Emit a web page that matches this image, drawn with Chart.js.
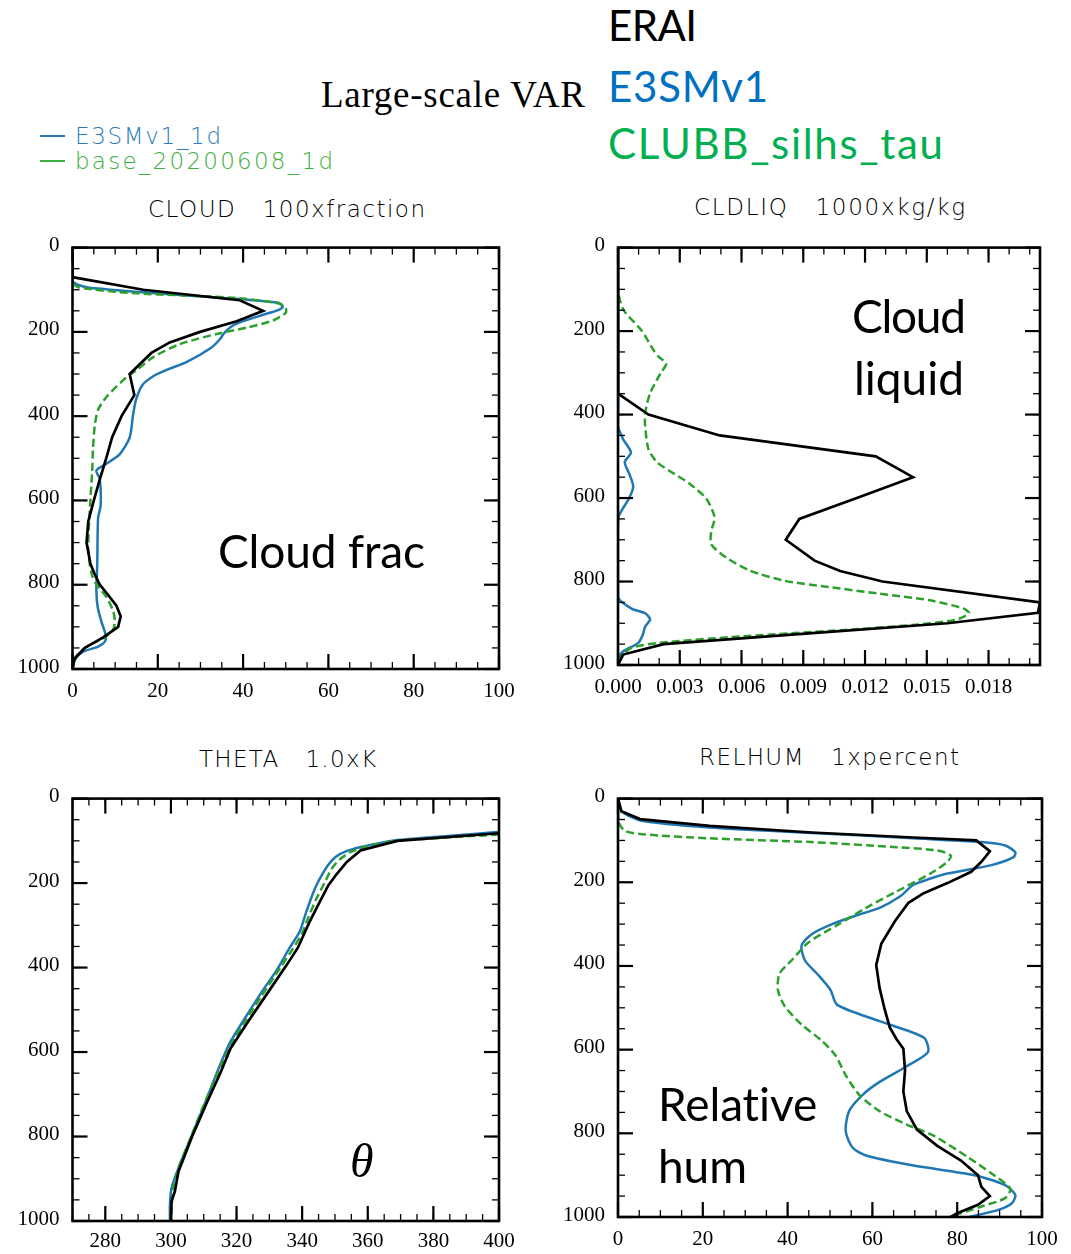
<!DOCTYPE html>
<html><head><meta charset="utf-8">
<script src="https://cdn.jsdelivr.net/npm/chart.js@4.4.1/dist/chart.umd.min.js"></script>
<style>
html,body{margin:0;padding:0;background:#fff;}
body{width:1071px;height:1254px;position:relative;overflow:hidden;}
canvas{position:absolute;}
.t{position:absolute;white-space:pre;line-height:1;left:0;top:0;}
.ncl{font-family:"DejaVu Sans";font-weight:200;font-size:23px;}
.cal{font-family:Lato;}
.ser{font-family:"Liberation Serif";}
.seg{position:absolute;height:2px;width:25px;left:40px;}
</style></head><body>
<div id="tTitle" class="t ser" style="font-size:37px;color:#000">Large-scale VAR</div>
<div id="hERAI" class="t cal" style="font-size:42px;color:#000">ERAI</div>
<div id="hE3SM" class="t cal" style="font-size:42px;color:#0070C0">E3SMv1</div>
<div id="hCLUBB" class="t cal" style="font-size:42px;color:#00B050">CLUBB_silhs_tau</div>
<div class="seg" style="top:134.5px;background:#2b7bba"></div>
<div class="seg" style="top:159.5px;background:#3cae3c"></div>
<div id="lg1" class="t ncl" style="color:#2b7bba">E3SMv1_1d</div>
<div id="lg2" class="t ncl" style="color:#3cae3c">base_20200608_1d</div>
<div id="pt1" class="t ncl" style="color:#000">CLOUD   100xfraction</div>
<div id="pt2" class="t ncl" style="color:#000">CLDLIQ   1000xkg/kg</div>
<div id="pt3" class="t ncl" style="color:#000">THETA   1.0xK</div>
<div id="pt4" class="t ncl" style="color:#000">RELHUM   1xpercent</div>
<canvas id="c1" width="540" height="480" style="left:0px;top:222px"></canvas>
<canvas id="c2" width="531" height="480" style="left:540px;top:222px"></canvas>
<canvas id="c3" width="540" height="481" style="left:0px;top:773px"></canvas>
<canvas id="c4" width="531" height="481" style="left:540px;top:773px"></canvas>
<div id="a1" class="t cal" style="font-size:46px;color:#000">Cloud frac</div>
<div id="a2a" class="t cal" style="font-size:46px;color:#000">Cloud</div>
<div id="a2b" class="t cal" style="font-size:46px;color:#000">liquid</div>
<div id="a3" class="t ser" style="font-size:48px;font-style:italic;color:#000">θ</div>
<div id="a4a" class="t cal" style="font-size:46px;color:#000">Relative</div>
<div id="a4b" class="t cal" style="font-size:46px;color:#000">hum</div>
<script>
// ---------------- DATA ----------------
const pressureTicks = [0, 200, 400, 600, 800, 1000];
const pctTicks = [0, 20, 40, 60, 80, 100];
const liqTicks = [0, 0.003, 0.006, 0.009, 0.012, 0.015, 0.018];
const thetaTicks = [280, 300, 320, 340, 360, 380, 400];

// CLOUD (100 x fraction)
const cloudP_erai = [0, 70, 100, 125, 150, 175, 200, 225, 250, 300, 350, 400, 450, 500, 550, 600, 650, 700, 750, 775, 800, 825, 850, 875, 900, 925, 950, 975, 1000];
const cloudV_erai = [0, 0, 16.6, 39.2, 44.7, 38.5, 29.9, 22.8, 18.5, 13.4, 14.5, 11.5, 9.3, 7.9, 6.4, 5.0, 3.7, 3.3, 4.2, 5.2, 6.4, 8.4, 10.3, 11.3, 10.7, 7.2, 2.9, 0.5, 0];
const cloudP_e3sm = [0, 78, 88, 95, 107, 120, 131, 140, 147, 162, 182, 201, 217, 237, 272, 287, 303, 326, 361, 397, 451, 490, 510, 529, 549, 611, 642, 752, 814, 853, 888, 920, 935, 947, 959, 978, 1000];
const cloudV_e3sm = [0, 0, 1.2, 4, 18, 36, 48.2, 49.3, 48.5, 43.9, 38.1, 35.7, 34.6, 32.6, 26.7, 22.8, 19.3, 16.4, 14.9, 14.2, 13.4, 11.1, 8.4, 5.6, 6.4, 6.6, 6.0, 5.8, 5.6, 5.9, 6.8, 7.8, 7.6, 6.0, 2.5, 0.5, 0];
const cloudP_clubb = [0, 80, 94, 108, 119, 133, 144, 155, 173, 190, 205, 229, 260, 291, 307, 354, 385, 424, 479, 533, 596, 650, 720, 775, 799, 830, 861, 884, 908, 927, 947, 970, 1000];
const cloudV_clubb = [0, 0, 1.3, 14, 37.7, 48.6, 50, 50, 47, 40.8, 33.8, 25.2, 18.9, 15, 12.7, 8, 6, 5.2, 4.8, 4.6, 4.2, 3.9, 3.7, 4.5, 5.6, 8, 9.5, 9.9, 9.5, 7.2, 3.3, 0.9, 0];

// CLDLIQ (1000 x kg/kg)
const liqP_erai = [0, 350, 400, 450, 500, 550, 600, 650, 700, 750, 775, 800, 850, 875, 900, 925, 950, 975, 1000];
const liqV_erai = [0, 0, 0.00148, 0.00494, 0.01252, 0.01433, 0.0116, 0.00881, 0.00815, 0.00955, 0.01079, 0.01285, 0.0205, 0.0204, 0.0160, 0.0091, 0.00222, 0.00025, 0];
const liqP_e3sm = [0, 350, 428, 459, 491, 514, 546, 573, 601, 644, 680, 837, 865, 876, 891, 908, 928, 947, 967, 983, 1000];
const liqV_e3sm = [0, 0.00002, 0, 0.00025, 0.00063, 0.00033, 0.00058, 0.00074, 0.00053, 0.00003, 0, 0, 0.00066, 0.00132, 0.00156, 0.00132, 0.0012, 0.00099, 0.00025, 0.00003, 0];
const liqP_clubb = [0, 101, 148, 199, 246, 262, 278, 302, 349, 396, 428, 483, 514, 534, 565, 601, 646, 680, 711, 743, 774, 798, 813, 829, 845, 865, 876, 892, 904, 916, 931, 947, 959, 979, 1000];
const liqV_clubb = [0, 0, 0.00025, 0.00115, 0.00173, 0.00198, 0.00234, 0.00206, 0.00156, 0.00132, 0.00132, 0.00148, 0.00189, 0.00247, 0.00346, 0.00428, 0.00469, 0.00453, 0.00453, 0.00527, 0.00642, 0.00807, 0.01021, 0.01268, 0.01515, 0.0168, 0.01705, 0.01639, 0.01433, 0.01103, 0.00609, 0.00198, 0.00066, 0.00016, 0];

// THETA (K)
const thetaP_erai = [82, 100, 123, 150, 178, 205, 244, 291, 353, 396, 454, 525, 591, 649, 719, 801, 883, 930, 953, 1000];
const thetaV_erai = [400, 369, 357.8, 353.6, 350.6, 348, 345.4, 342.3, 338.7, 335.1, 330, 323.8, 318.2, 315.1, 311, 306.4, 302.3, 301.2, 300.2, 300];
const thetaP_e3sm = [79, 98, 110, 119, 131, 147, 174, 213, 267, 314, 353, 408, 454, 517, 575, 610, 657, 719, 797, 875, 922, 961, 1000];
const thetaV_e3sm = [400, 369, 360.8, 355.7, 351.6, 349, 346.5, 343.9, 341.3, 339.3, 336.2, 332.1, 328, 322.8, 318.2, 316.1, 313.6, 310.5, 306.4, 302.3, 300.2, 299.7, 299.7];
const thetaP_clubb = [85, 100, 115, 127, 143, 166, 197, 236, 283, 322, 361, 415, 470, 525, 579, 626, 680, 735, 805, 875, 922, 969, 1000];
const thetaV_clubb = [400, 369, 358.8, 354.7, 351.6, 349, 347, 344.4, 341.8, 339.8, 336.7, 332.1, 327.4, 322.8, 318.7, 315.6, 312.5, 309.5, 305.9, 302.3, 300.7, 300.2, 300.2];

// RELHUM (percent)
const rhP_erai = [0, 30, 49, 65, 81, 93, 100, 126, 151, 175, 202, 226, 249, 293, 347, 398, 453, 504, 547, 575, 598, 649, 700, 747, 791, 830, 865, 900, 928, 950, 971, 991, 1000];
const rhV_erai = [0, 0.8, 5.2, 21.6, 45.7, 69.7, 84.5, 87.7, 85.7, 83.3, 77.7, 72.1, 68.5, 65.3, 62.1, 60.9, 61.7, 62.9, 64.1, 65.7, 67.3, 67.7, 67.3, 68.1, 70.5, 75.3, 80.9, 84.9, 85.7, 87.7, 84.9, 80, 78.5];
const rhP_e3sm = [0, 30, 53, 69, 82, 95, 104, 112, 128, 140, 159, 179, 191, 206, 234, 261, 277, 300, 324, 351, 387, 418, 457, 493, 532, 571, 606, 642, 677, 708, 747, 795, 834, 853, 877, 900, 924, 947, 967, 983, 1000];
const rhV_e3sm = [0, 0.8, 5.6, 21.6, 45.7, 69.7, 85.7, 91.3, 93.7, 93.3, 88.1, 77.7, 73.7, 69.7, 66.5, 61.7, 56.9, 50.5, 45.7, 43.3, 44.1, 46.9, 50.1, 51.7, 61.7, 72.1, 73.1, 67.7, 61.7, 57.7, 54.5, 53.7, 55.3, 58.5, 69.7, 84.1, 91.3, 93.7, 92.9, 89.7, 82.9];
const rhP_clubb = [0, 57, 77, 85, 95, 104, 116, 124, 136, 151, 179, 222, 261, 300, 344, 387, 418, 457, 496, 540, 579, 614, 661, 708, 747, 779, 806, 857, 896, 932, 955, 975, 1000];
const rhV_clubb = [0, 0.2, 1.6, 5.6, 21.6, 45.7, 65.7, 75.3, 78.5, 77.7, 73.7, 65.7, 58.5, 52.1, 44.9, 40.9, 38.1, 37.7, 39.3, 43.3, 48.1, 51.3, 53.7, 56.9, 61.7, 68.1, 74.5, 82.5, 88.1, 92.5, 91.3, 85.7, 78.1];

// ---------------- HELPERS ----------------
const BLACK = '#000000', BLUE = '#1f77b4', GREEN = '#2ca02c';
function pts(p, v) { return p.map((pp, i) => ({ x: v[i], y: pp })); }
function steps(a, b, s) { const r = []; for (let v = a; v <= b + s * 1e-6; v += s) r.push(+v.toFixed(6)); return r; }

function series(pE, vE, pB, vB, pG, vG) {
  return [
    { data: pts(pE, vE), borderColor: BLACK, borderWidth: 2.7, tension: 0 },
    { data: pts(pG, vG), borderColor: GREEN, borderWidth: 2.5, borderDash: [8, 4], tension: 0.25 },
    { data: pts(pB, vB), borderColor: BLUE, borderWidth: 2.5, tension: 0.25 }
  ].map(d => Object.assign(d, { showLine: true, pointRadius: 0, fill: false }));
}

function framePlugin(xMajor, xMinor, yMajor, yMinor) {
  return {
    id: 'frame',
    afterDatasetsDraw(chart) {
      const { ctx, chartArea: a } = chart;
      const xs = chart.scales.x, ys = chart.scales.y;
      ctx.save();
      ctx.strokeStyle = '#000';
      ctx.lineCap = 'butt';
      const seg = (x1, y1, x2, y2, w) => { ctx.lineWidth = w; ctx.beginPath(); ctx.moveTo(x1, y1); ctx.lineTo(x2, y2); ctx.stroke(); };
      xMinor.forEach(v => { const p = xs.getPixelForValue(v); seg(p, a.bottom, p, a.bottom - 7, 1.3); seg(p, a.top, p, a.top + 7, 1.3); });
      xMajor.forEach(v => { const p = xs.getPixelForValue(v); seg(p, a.bottom, p, a.bottom - 15, 2.2); seg(p, a.top, p, a.top + 15, 2.2); });
      yMinor.forEach(v => { const p = ys.getPixelForValue(v); seg(a.left, p, a.left + 7, p, 1.3); seg(a.right, p, a.right - 7, p, 1.3); });
      yMajor.forEach(v => { const p = ys.getPixelForValue(v); seg(a.left, p, a.left + 15, p, 2.2); seg(a.right, p, a.right - 15, p, 2.2); });
      ctx.lineWidth = 2.6;
      ctx.strokeRect(a.left, a.top, a.right - a.left, a.bottom - a.top);
      ctx.restore();
    }
  };
}

function makeChart(id, datasets, cfg) {
  const tickFont = { family: '"Liberation Serif", "Times New Roman", serif', size: 21 };
  new Chart(document.getElementById(id), {
    type: 'scatter',
    data: { datasets },
    options: {
      responsive: false, animation: false, events: [],
      layout: { padding: { left: 0, top: 20, right: cfg.padRight, bottom: 0 } },
      plugins: { legend: { display: false }, tooltip: { enabled: false } },
      scales: {
        x: {
          type: 'linear', min: cfg.xMin, max: cfg.xMax,
          grid: { display: false, drawTicks: false }, border: { display: false },
          afterBuildTicks: s => { s.ticks = cfg.xTicks.map(v => ({ value: v })); },
          afterFit: s => { s.height = cfg.xHeight; },
          ticks: { color: '#000', font: tickFont, padding: cfg.xPad, maxRotation: 0, autoSkip: false,
                   callback: v => cfg.fmt ? cfg.fmt(v) : String(v) }
        },
        y: {
          type: 'linear', min: 0, max: 1000, reverse: true,
          grid: { display: false, drawTicks: false }, border: { display: false },
          afterBuildTicks: s => { s.ticks = pressureTicks.map(v => ({ value: v })); },
          afterFit: s => { s.width = cfg.yWidth; },
          ticks: { color: '#000', font: tickFont, padding: 13, labelOffset: -2, autoSkip: false, callback: v => String(v) }
        }
      }
    },
    plugins: [framePlugin(cfg.xTicks, cfg.xMinor, pressureTicks, steps(0, 1000, 50))]
  });
}

makeChart('c1', series(cloudP_erai, cloudV_erai, cloudP_e3sm, cloudV_e3sm, cloudP_clubb, cloudV_clubb),
  { xMin: 0, xMax: 100, xTicks: pctTicks, xMinor: steps(0, 100, 5), padRight: 41, xHeight: 33, yWidth: 72.5, xPad: 10 });
makeChart('c2', series(liqP_erai, liqV_erai, liqP_e3sm, liqV_e3sm, liqP_clubb, liqV_clubb),
  { xMin: 0, xMax: 0.0205, xTicks: liqTicks, xMinor: steps(0, 0.020, 0.001), padRight: 31, xHeight: 37, yWidth: 78, xPad: 10, fmt: v => v.toFixed(3) });
makeChart('c3', series(thetaP_erai, thetaV_erai, thetaP_e3sm, thetaV_e3sm, thetaP_clubb, thetaV_clubb),
  { xMin: 270, xMax: 400, xTicks: thetaTicks, xMinor: steps(270, 400, 5), padRight: 41, xHeight: 33, yWidth: 72.5, xPad: 8 });
makeChart('c4', series(rhP_erai, rhV_erai, rhP_e3sm, rhV_e3sm, rhP_clubb, rhV_clubb),
  { xMin: 0, xMax: 100, xTicks: pctTicks, xMinor: steps(0, 100, 5), padRight: 29, xHeight: 37, yWidth: 78, xPad: 10 });

// ---------------- TEXT PLACEMENT ----------------
function place(id, x1, x2, base) {
  const el = document.getElementById(id);
  const n = [...el.textContent].length;
  if (n > 1) {
    const w = el.getBoundingClientRect().width;
    el.style.letterSpacing = ((x2 - x1 - w) / (n - 1)) + 'px';
  }
  const probe = document.createElement('span');
  probe.style.cssText = 'display:inline-block;width:0;height:0;vertical-align:baseline;';
  el.appendChild(probe);
  const b = probe.getBoundingClientRect().top - el.getBoundingClientRect().top;
  el.removeChild(probe);
  el.style.left = x1 + 'px';
  el.style.top = (base - b) + 'px';
}
place('tTitle', 321, 585, 107);
place('hERAI', 608, 697, 41);
place('hE3SM', 608, 768, 102);
place('hCLUBB', 608, 943, 159);
place('lg1', 75, 221, 144);
place('lg2', 75, 333, 169);
place('pt1', 148, 425, 217);
place('pt2', 694, 965, 215);
place('pt3', 199, 376, 767);
place('pt4', 699, 959, 765);
place('a1', 218, 425, 568);
place('a2a', 852, 966, 333);
place('a2b', 854, 964, 395);
place('a3', 350, 376, 1177);
place('a4a', 658, 818, 1121);
place('a4b', 658, 747, 1183);
</script>
</body></html>
